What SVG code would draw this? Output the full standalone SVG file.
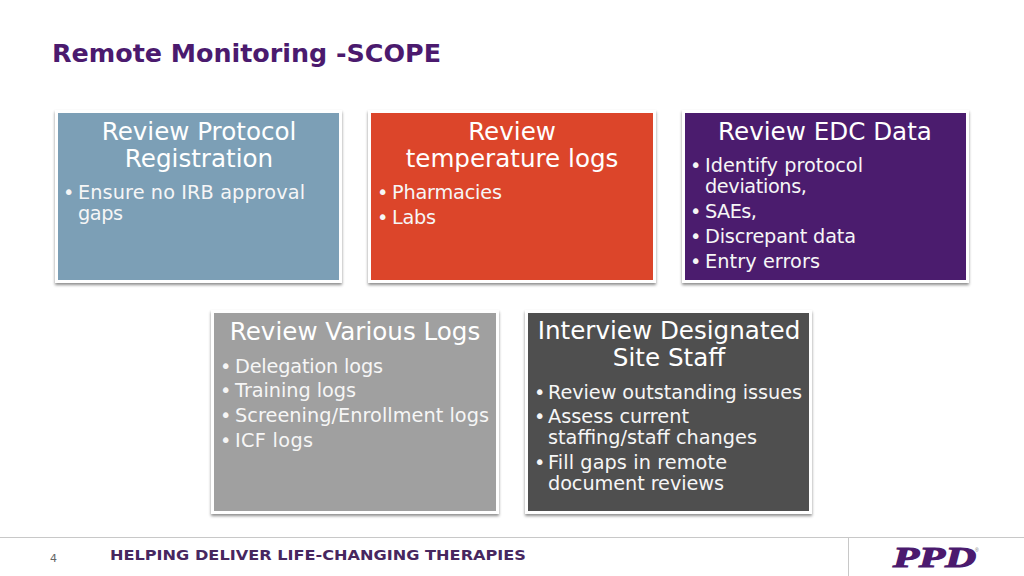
<svg xmlns="http://www.w3.org/2000/svg" width="1024" height="576" viewBox="0 0 1024 576">
<defs><filter id="s" x="-5%" y="-5%" width="110%" height="110%"><feDropShadow dx="0" dy="2" stdDeviation="1.5" flood-color="#000" flood-opacity="0.45"/></filter></defs>
<style>
text{font-family:"DejaVu Sans",Verdana,sans-serif;fill:#fff}
.h{font-size:24.600px;text-anchor:middle}
.b{font-size:19.300px;fill:#f6f6f6}
.box{stroke:#fff;stroke-width:3;filter:url(#s)}
</style>
<rect width="1024" height="576" fill="#fff"/>
<text x="52" y="62" textLength="389" style="font-family:'DejaVu Sans',sans-serif;font-size:25.400px;font-weight:700;fill:#4b1a6e">Remote Monitoring -SCOPE</text>
<g id="n1"><rect class="box" x="56.500" y="111.500" width="284" height="170" fill="#7c9fb6"/>
<text class="h" x="199" y="140">Review Protocol</text><text class="h" x="199" y="167">Registration</text>
<text class="b" x="63" y="199">•</text><text class="b" x="78" y="199" textLength="227">Ensure no IRB approval</text><text class="b" x="78" y="220" textLength="45">gaps</text></g>
<g id="n2"><rect class="box" x="369.500" y="111.500" width="285" height="170" fill="#dc452b"/>
<text class="h" x="512" y="140">Review</text><text class="h" x="512" y="167">temperature logs</text>
<text class="b" x="377" y="199">•</text><text class="b" x="392" y="199" textLength="110">Pharmacies</text><text class="b" x="377" y="224">•</text><text class="b" x="392" y="224" textLength="44">Labs</text></g>
<g id="n3"><rect class="box" x="683.500" y="111.500" width="284" height="170" fill="#4b1a6e"/>
<text class="h" x="825" y="140">Review EDC Data</text>
<text class="b" x="690" y="172">•</text><text class="b" x="705" y="172" textLength="158">Identify protocol</text><text class="b" x="705" y="193" textLength="102">deviations,</text>
<text class="b" x="690" y="218">•</text><text class="b" x="705" y="218" textLength="52">SAEs,</text>
<text class="b" x="690" y="243">•</text><text class="b" x="705" y="243" textLength="151">Discrepant data</text>
<text class="b" x="690" y="268">•</text><text class="b" x="705" y="268" textLength="115">Entry errors</text></g>
<g id="n4"><rect class="box" x="212.500" y="311.500" width="285" height="201" fill="#a0a0a0"/>
<text class="h" x="355" y="340">Review Various Logs</text>
<text class="b" x="220" y="373">•</text><text class="b" x="235" y="373" textLength="148">Delegation logs</text>
<text class="b" x="220" y="397">•</text><text class="b" x="235" y="397" textLength="121">Training logs</text>
<text class="b" x="220" y="422">•</text><text class="b" x="235" y="422" textLength="254">Screening/Enrollment logs</text>
<text class="b" x="220" y="447">•</text><text class="b" x="235" y="447" textLength="78">ICF logs</text></g>
<g id="n5"><rect class="box" x="526.500" y="311.500" width="284" height="201" fill="#505050"/>
<text class="h" x="669" y="339">Interview Designated</text><text class="h" x="669" y="366">Site Staff</text>
<text class="b" x="534" y="399">•</text><text class="b" x="548" y="399" textLength="254">Review outstanding issues</text>
<text class="b" x="534" y="423">•</text><text class="b" x="548" y="423" textLength="141">Assess current</text><text class="b" x="548" y="444" textLength="209">staffing/staff changes</text>
<text class="b" x="534" y="469">•</text><text class="b" x="548" y="469" textLength="179">Fill gaps in remote</text><text class="b" x="548" y="490" textLength="176">document reviews</text></g>
<path d="M0 537.500H1024M848.500 537V576" stroke="#c8c8c8" fill="none"/>
<text x="50" y="562" style="font-family:'DejaVu Sans',sans-serif;font-size:11px;fill:#666">4</text>
<text x="110" y="560" style="font-family:'DejaVu Sans',sans-serif;font-size:13.500px;font-weight:700;fill:#47275f" textLength="416" lengthAdjust="spacingAndGlyphs">HELPING DELIVER LIFE-CHANGING THERAPIES</text>
<g id="logo"><text x="893" y="567" stroke="#4b1a6e" stroke-width="1.200" style="font-family:'Liberation Serif',serif;font-size:29px;font-weight:700;font-style:italic;fill:#4b1a6e" textLength="83" lengthAdjust="spacingAndGlyphs">PPD</text>
<text x="975" y="552" style="font-family:'Liberation Sans',sans-serif;font-size:5px;fill:#777">®</text></g>
</svg>
